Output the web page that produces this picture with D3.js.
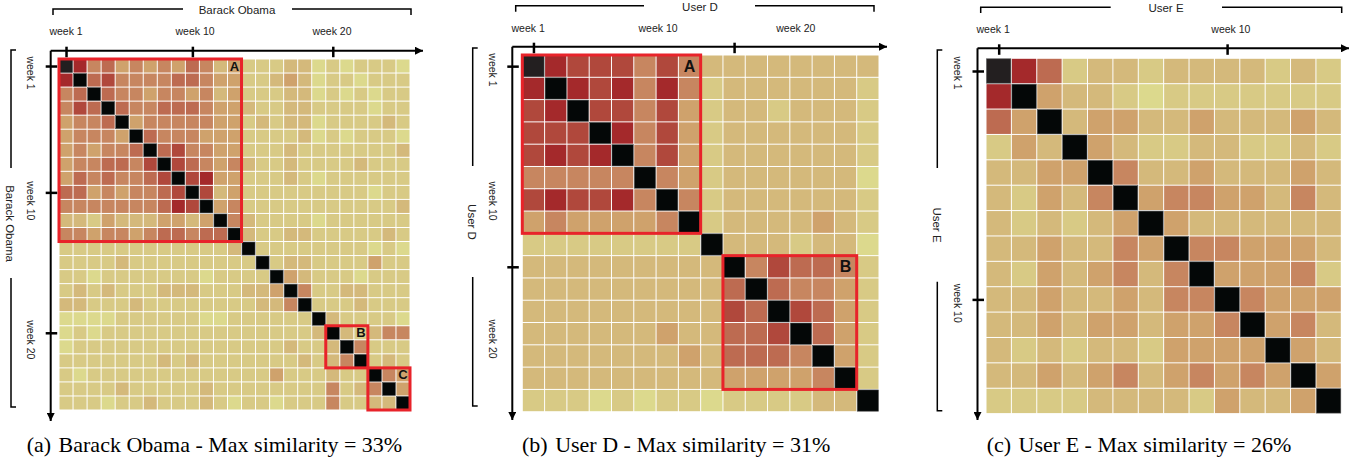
<!DOCTYPE html>
<html><head><meta charset="utf-8">
<script src="https://cdn.jsdelivr.net/npm/d3@7/dist/d3.min.js"></script>
<style>body{margin:0;background:#fff}svg{display:block}</style>
</head><body>
<svg id="chart" width="1359" height="460"></svg>
<script>
// ---- DATA: similarity level per week pair (0 = lowest ... 7 = max similarity, 8 = self, 9 = first-week self) ----
const obamaSim = [
[9,7,4,5,3,4,3,4,3,5,4,2,3,1,1,1,2,2,0,1,0,1,1,1,0],
[7,8,5,6,4,4,4,4,5,5,4,3,3,1,1,2,3,2,0,1,1,0,1,1,1],
[4,5,8,5,4,4,3,4,4,3,4,2,3,1,1,1,2,2,0,1,0,1,0,1,1],
[4,6,5,8,5,4,4,5,5,5,4,3,3,2,1,1,2,2,1,1,1,1,0,1,1],
[3,4,4,5,8,3,4,4,4,4,4,3,3,1,2,1,2,2,0,1,1,1,1,2,1],
[3,4,4,4,3,8,5,4,4,4,3,3,3,1,1,1,1,2,0,1,0,1,1,1,0],
[3,4,3,4,4,5,8,5,6,4,4,3,3,1,1,1,2,1,1,1,1,1,1,1,2],
[3,4,4,5,5,4,6,8,6,5,4,3,4,2,1,1,2,1,1,1,1,2,1,1,1],
[3,5,4,5,4,4,5,6,8,6,7,3,3,1,1,1,2,1,0,1,1,1,1,1,1],
[5,5,3,4,3,4,4,5,6,8,6,2,3,1,1,1,1,1,1,1,1,1,0,1,1],
[4,4,4,4,4,4,4,5,7,6,8,3,4,1,1,1,1,1,1,1,1,1,1,1,2],
[2,2,1,3,2,2,2,3,3,2,3,8,4,2,1,1,1,1,0,1,1,1,1,1,1],
[4,4,3,4,4,3,4,5,5,4,5,5,8,2,1,1,2,2,1,1,1,1,1,2,1],
[1,1,1,1,1,1,1,1,1,1,1,1,2,8,1,1,1,1,1,1,1,1,0,1,0],
[1,1,1,1,2,1,1,1,1,1,1,1,1,1,8,1,2,2,1,1,1,1,3,1,1],
[1,1,0,1,1,1,1,1,1,1,0,1,1,1,1,8,3,2,1,1,1,0,1,1,1],
[1,2,1,2,1,1,1,2,2,2,1,1,1,2,2,3,8,4,1,1,2,2,1,1,1],
[2,2,1,1,1,2,1,1,1,1,1,1,1,1,2,2,4,8,1,1,1,2,1,1,1],
[0,0,0,0,1,1,1,1,1,1,0,0,1,1,1,1,1,1,8,2,1,1,1,1,0],
[0,1,0,1,1,1,1,1,1,1,1,1,1,1,1,1,1,1,2,8,2,1,2,4,4],
[0,1,1,1,1,1,1,1,1,1,1,1,1,1,1,1,2,1,1,2,8,4,1,1,1],
[1,1,1,1,1,1,1,2,1,2,1,1,1,1,1,1,1,2,1,2,4,8,1,2,1],
[1,0,1,1,1,1,1,1,1,1,1,1,1,1,1,3,1,1,1,2,1,1,8,4,3],
[1,1,1,1,2,1,1,1,1,1,2,1,1,1,1,1,1,1,1,4,1,2,4,8,3],
[1,1,1,0,1,1,2,1,1,1,2,1,0,1,1,0,1,1,1,4,1,1,2,2,8]
];
const userDSim = [
[9,7,6,6,6,4,6,4,2,2,2,2,2,2,2,2],
[7,8,7,6,7,4,7,4,1,2,2,2,2,2,2,1],
[6,7,8,6,6,4,6,3,1,2,2,1,2,2,2,1],
[6,6,6,8,7,4,6,3,1,2,2,2,2,2,2,1],
[6,7,6,7,8,4,6,3,1,2,2,2,2,2,2,1],
[4,4,4,4,4,8,4,3,1,2,2,2,2,2,2,0],
[6,7,6,6,7,4,8,4,1,2,2,2,2,2,2,1],
[3,4,3,3,3,3,4,8,1,2,2,2,2,3,2,1],
[1,1,1,1,1,1,1,1,8,2,2,2,1,2,2,0],
[2,2,2,2,2,2,2,2,2,8,4,6,5,5,4,1],
[2,2,2,2,2,2,2,2,2,5,8,5,4,4,3,1],
[2,2,2,2,2,2,2,2,2,6,5,8,6,5,3,1],
[2,2,2,2,2,2,3,2,2,5,5,6,8,5,3,1],
[2,2,2,2,2,2,2,3,2,5,5,5,4,8,3,1],
[2,2,2,2,2,2,2,2,2,3,3,3,3,4,8,1],
[1,1,1,0,1,0,1,1,0,1,1,1,1,2,2,8]
];
const userESim = [
[9,7,5,1,2,2,1,2,2,2,2,1,2,1],
[7,8,3,2,2,1,0,1,1,1,1,1,1,1],
[5,3,8,2,3,3,2,2,3,2,2,2,3,2],
[1,3,2,8,3,2,1,1,2,2,1,1,2,1],
[2,2,3,3,8,4,2,2,3,2,2,2,3,2],
[2,1,3,2,4,8,3,4,4,3,3,2,4,2],
[2,1,2,1,2,3,8,3,2,2,2,2,2,2],
[2,2,3,2,2,4,3,8,4,4,3,3,3,2],
[2,1,3,2,3,4,2,4,8,3,3,3,4,1],
[2,2,3,2,2,3,2,4,4,8,4,3,3,3],
[2,2,3,2,3,3,2,3,3,4,8,3,4,2],
[2,1,2,1,2,2,1,3,3,3,3,8,3,2],
[2,2,3,2,3,4,2,3,4,3,4,3,8,3],
[1,1,1,1,2,2,2,2,1,3,2,2,3,8]
];
const levels = [0,1,2,3,4,5,6,7,8,9];
const obamaTicks = [0, 9, 19];
const obamaTickLabels = ["week 1", "week 10", "week 20"];
const userDTicks = [0, 9];
const userDTickLabels = ["week 1", "week 10", "week 20"];
const userETicks = [0, 9];
const userETickLabels = ["week 1", "week 10"];
const obamaBoxes = [{label:"A", from:0, to:12}, {label:"B", from:19, to:21}, {label:"C", from:22, to:24}];
const userDBoxes = [{label:"A", from:0, to:7}, {label:"B", from:9, to:14}];
const userEBoxes = [];
const panelNames = ["Barack Obama", "User D", "User E"];
const captionTags = ["(a)", "(b)", "(c)"];
const maxSimilarity = [33, 31, 26];

// ---- STYLE / LAYOUT ----
const colors = ["#dcd98d","#d8ca85","#d4b97b","#cfa26c","#c78660","#bd6b51","#b0483c","#a4292b","#040707","#231f20"];
const color = d3.scaleOrdinal().domain(levels).range(colors);
const sansFont = "'Liberation Sans', Arial, sans-serif";
const serifFont = "'Liberation Serif', 'Times New Roman', serif";

const layouts = [
  {x0:59, y0:59, size:351, ox:50.7, oy:50.7, hx:423, vy:421,
   topLab:[0.5,9.69,19.44], topLabY:30.5, leftLab:[1.0,10.1,20.0], leftLabX:31,
   br:{y:9, a:[53,183], b:[292,411], tick:15, tx:237, ty:9.5},
   lb:{x:11, a:[50,168], b:[278,407], tx:10, ty:223.5},
   boxFont:13, capX:26.7},
  {x0:522.3, y0:55, size:356.7, ox:512.3, oy:46.7, hx:887, vy:420,
   topLab:[0.26,6.09,12.27], topLabY:28.3, leftLab:[0.67,6.55,12.74], leftLabX:493,
   br:{y:5.7, a:[515.7,644], b:[755,874], tick:11.7, tx:700, ty:7},
   lb:{x:472.7, a:[48,166], b:[277,406], tx:472, ty:222},
   boxFont:16, capX:522},
  {x0:986, y0:58.3, size:355.3, ox:977.5, oy:48.3, hx:1349, vy:420,
   topLab:[0.28,9.65], topLabY:29.3, leftLab:[0.58,9.65], leftLabX:958,
   br:{y:7.3, a:[980.7,1110.7], b:[1222,1341.7], tick:13, tx:1166, ty:7.5},
   lb:{x:937.3, a:[50,168], b:[281.7,410.7], tx:936.7, ty:225},
   boxFont:16, capX:986.7}
];

const panels = [
  {sim:obamaSim, ticks:obamaTicks, labels:obamaTickLabels, boxes:obamaBoxes},
  {sim:userDSim, ticks:userDTicks, labels:userDTickLabels, boxes:userDBoxes},
  {sim:userESim, ticks:userETicks, labels:userETickLabels, boxes:userEBoxes}
];

const svg = d3.select("#chart");
const defs = svg.append("defs");
defs.append("marker").attr("id","arrow").attr("viewBox","0 0 10 10")
  .attr("refX",10).attr("refY",5).attr("markerWidth",9).attr("markerHeight",8)
  .attr("markerUnits","userSpaceOnUse").attr("orient","auto")
  .append("path").attr("d","M0,0L10,5L0,10Z").attr("fill","#000");

panels.forEach((p, k) => {
  const L = layouts[k];
  const n = p.sim.length;
  const g = svg.append("g");
  const sx = d3.scaleLinear().domain([0, n]).range([L.x0, L.x0 + L.size]);
  const sy = d3.scaleLinear().domain([0, n]).range([L.y0, L.y0 + L.size]);

  // cells
  const cells = [];
  p.sim.forEach((row, i) => row.forEach((v, j) => cells.push({i, j, v})));
  g.append("g").selectAll("rect").data(cells).join("rect")
    .attr("x", d => sx(d.j) + 0.5)
    .attr("y", d => sy(d.i) + 0.5)
    .attr("width", d => sx(d.j + 1) - sx(d.j) - 1)
    .attr("height", d => sy(d.i + 1) - sy(d.i) - 1)
    .attr("fill", d => color(d.v))
    .attr("stroke", d => d.v >= 8 ? "#555" : "none")
    .attr("stroke-width", 0.6);

  // boxes
  g.append("g").selectAll("rect").data(p.boxes).join("rect")
    .attr("x", d => sx(d.from)).attr("y", d => sy(d.from))
    .attr("width", d => sx(d.to + 1) - sx(d.from))
    .attr("height", d => sy(d.to + 1) - sy(d.from))
    .attr("fill", "none").attr("stroke", "#e8232a").attr("stroke-width", 3);
  g.append("g").selectAll("text").data(p.boxes).join("text")
    .attr("x", d => sx(d.to + 0.5)).attr("y", d => sy(d.from + 0.5))
    .attr("text-anchor", "middle").attr("dominant-baseline", "central")
    .attr("font-family", sansFont).attr("font-weight", "bold")
    .attr("font-size", L.boxFont).attr("fill", "#111").text(d => d.label);

  // axes
  g.append("line").attr("x1", L.ox).attr("y1", L.oy).attr("x2", L.hx).attr("y2", L.oy)
    .attr("stroke", "#000").attr("stroke-width", 2).attr("marker-end", "url(#arrow)");
  g.append("line").attr("x1", L.ox).attr("y1", L.oy).attr("x2", L.ox).attr("y2", L.vy)
    .attr("stroke", "#000").attr("stroke-width", 2).attr("marker-end", "url(#arrow)");

  const tickPos = p.ticks.map(t => t + 0.5);
  const axTop = d3.axisTop(sx).tickValues(tickPos).tickSizeInner(-6.5).tickSizeOuter(0).tickFormat(() => "");
  const gx = g.append("g").attr("transform", `translate(0,${L.oy})`).call(axTop);
  gx.select(".domain").remove();
  gx.selectAll(".tick line").attr("y1", -4).attr("stroke", "#000").attr("stroke-width", 2.5);

  const axLeft = d3.axisLeft(sy).tickValues(tickPos).tickSizeInner(-6.5).tickSizeOuter(0).tickFormat(() => "");
  const gy = g.append("g").attr("transform", `translate(${L.ox},0)`).call(axLeft);
  gy.select(".domain").remove();
  gy.selectAll(".tick line").attr("x1", -5).attr("stroke", "#000").attr("stroke-width", 2.5);

  // week labels
  g.append("g").selectAll("text").data(p.labels.slice(0, L.topLab.length)).join("text")
    .attr("x", (d, i) => sx(L.topLab[i])).attr("y", L.topLabY)
    .attr("text-anchor", "middle").attr("dominant-baseline", "central")
    .attr("font-family", sansFont).attr("font-size", 10.5).attr("fill", "#222").text(d => d);
  g.append("g").selectAll("text").data(p.labels.slice(0, L.leftLab.length)).join("text")
    .attr("transform", (d, i) => `translate(${L.leftLabX},${sy(L.leftLab[i])}) rotate(90)`)
    .attr("text-anchor", "middle").attr("dominant-baseline", "central")
    .attr("font-family", sansFont).attr("font-size", 10.5).attr("fill", "#222").text(d => d);

  // top bracket + name
  const br = L.br;
  g.append("path").attr("fill", "none").attr("stroke", "#000").attr("stroke-width", 1.5)
    .attr("d", `M${br.a[0]},${br.tick}V${br.y}H${br.a[1]}M${br.b[0]},${br.y}H${br.b[1]}V${br.tick}`);
  g.append("text").attr("x", br.tx).attr("y", br.ty).attr("text-anchor", "middle")
    .attr("dominant-baseline", "central").attr("font-family", sansFont).attr("font-size", 11.5)
    .attr("fill", "#222").text(panelNames[k]);

  // left bracket + name
  const lb = L.lb;
  g.append("path").attr("fill", "none").attr("stroke", "#000").attr("stroke-width", 1.5)
    .attr("d", `M${lb.x + 5},${lb.a[0]}H${lb.x}V${lb.a[1]}M${lb.x},${lb.b[0]}V${lb.b[1]}H${lb.x + 5}`);
  g.append("text").attr("transform", `translate(${lb.tx},${lb.ty}) rotate(90)`)
    .attr("text-anchor", "middle").attr("dominant-baseline", "central")
    .attr("font-family", sansFont).attr("font-size", 11.5).attr("fill", "#222").text(panelNames[k]);

  // caption
  const cap = g.append("text").attr("x", L.capX).attr("y", 452)
    .attr("font-family", serifFont).attr("font-size", 22).attr("fill", "#000");
  cap.append("tspan").text(captionTags[k]);
  cap.append("tspan").attr("dx", 2).text(` ${panelNames[k]} - Max similarity = ${maxSimilarity[k]}%`);
});
</script>
</body></html>
